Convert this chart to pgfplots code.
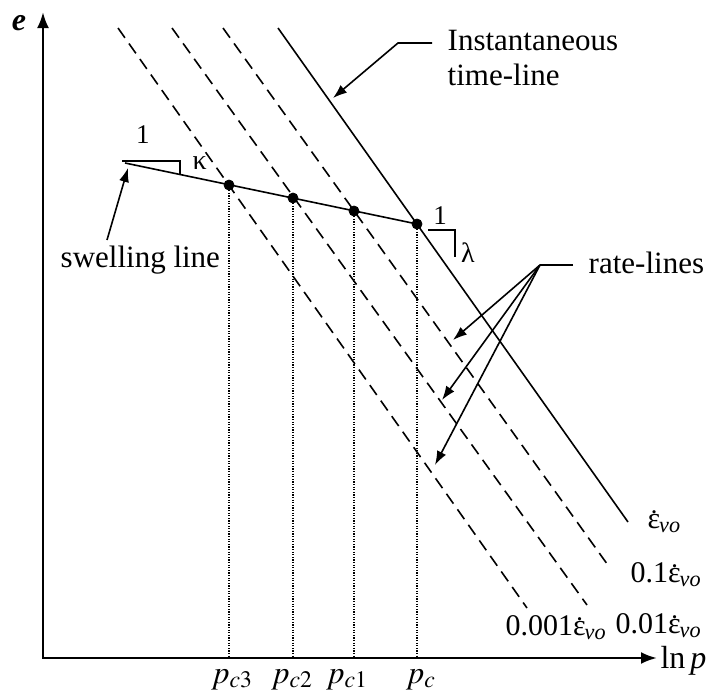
\documentclass[border=0pt]{standalone}
\usepackage{mathptmx}
\usepackage{fontspec}
\setmainfont{Liberation Serif}
\usepackage{pgfplots}
\pgfplotsset{compat=1.18}
\usetikzlibrary{arrows.meta}
\newcommand{\edot}{\ooalign{ε\cr\hidewidth\raisebox{-0.08em}{˙}\hidewidth\cr}\textsubscript{\kern-0.05em\textit{vo}}}

\begin{document}
\fontsize{15.5}{18}\selectfont
\begin{tikzpicture}[font=\fontsize{15.5}{18}\selectfont]
\begin{axis}[
  scale only axis, width=359.5pt, height=346.5pt,
  xmin=-43, xmax=676, ymin=-35, ymax=658,
  axis lines=none, clip=false,
  every node/.append style={inner sep=0pt},
]
\coordinate (bl) at (rel axis cs:0,0);
\coordinate (tr) at (rel axis cs:1,1);
% axes
\draw[line width=1.3pt, -{Latex[length=8pt,width=6pt]}] (axis cs:0,-0.5) -- (axis cs:0,646);
\draw[line width=1.3pt, -{Latex[length=8pt,width=6pt]}] (axis cs:-0.5,0) -- (axis cs:614,0);
\node[anchor=base, font=\fontsize{16}{19}\selectfont] at (axis cs:-24,627) {\textbf{\textit{e}}};
\node[anchor=base east, font=\fontsize{16}{19}\selectfont] at (axis cs:674,-10) {ln\kern0.15em\textit{p}};

% instantaneous time-line
\addplot[black, line width=0.8pt] coordinates {(235,630) (585,136)};
% rate lines
\addplot[black, line width=0.8pt, dash pattern=on 6pt off 3.5pt] coordinates {(180,630) (567,90)};
\addplot[black, line width=0.8pt, dash pattern=on 6pt off 3.5pt] coordinates {(129,630) (544,53)};
\addplot[black, line width=0.8pt, dash pattern=on 6pt off 3.5pt] coordinates {(75,630) (484,50)};
% swelling line
\addplot[black, line width=0.8pt] coordinates {(82,495) (374,434)};
% vertical dotted lines
\addplot[black, line width=0.6pt, dash pattern=on 0.6pt off 0.7pt] coordinates {(186,473) (186,0)};
\addplot[black, line width=0.6pt, dash pattern=on 0.6pt off 0.7pt] coordinates {(250,460) (250,0)};
\addplot[black, line width=0.6pt, dash pattern=on 0.6pt off 0.7pt] coordinates {(311,447) (311,0)};
\addplot[black, line width=0.6pt, dash pattern=on 0.6pt off 0.7pt] coordinates {(374,434) (374,0)};
% points
\addplot[black, only marks, mark=*, mark size=2.5pt] coordinates {(186,473) (250,460) (311,447) (374,434)};

% x labels
\node[anchor=base, font=\fontsize{16}{19}\selectfont] at (axis cs:189,-25) {$p_{c3}$};
\node[anchor=base, font=\fontsize{16}{19}\selectfont] at (axis cs:249,-25) {$p_{c2}$};
\node[anchor=base, font=\fontsize{16}{19}\selectfont] at (axis cs:304,-25) {$p_{c1}$};
\node[anchor=base, font=\fontsize{16}{19}\selectfont] at (axis cs:378,-25) {$p_{c}$};

% line labels
\node[anchor=base west, font=\fontsize{15}{18}\selectfont] at (axis cs:594,130) {\edot};
\node[anchor=base west, font=\fontsize{15}{18}\selectfont] at (axis cs:577,76) {0.1\edot};
\node[anchor=base west, font=\fontsize{15}{18}\selectfont] at (axis cs:562,25) {0.01\edot};
\node[anchor=base west, font=\fontsize{15}{18}\selectfont] at (axis cs:452,23) {0.001\edot};

% slope triangle kappa
\draw[line width=0.7pt] (axis cs:79,497) -- (axis cs:137,497) -- (axis cs:137,484);
\node[font=\fontsize{13.5}{15}\selectfont] at (axis cs:100,523) {1};
\node[anchor=west, font=\fontsize{14}{15}\selectfont] at (axis cs:139,495) {κ};
% slope triangle lambda
\draw[line width=0.7pt] (axis cs:385,428) -- (axis cs:412,428) -- (axis cs:412,401);
\node[font=\fontsize{13.5}{15}\selectfont] at (axis cs:397,442) {1};
\node[font=\fontsize{14}{15}\selectfont] at (axis cs:425,405) {λ};

% annotations
\node[anchor=base west] at (axis cs:394,608) {Instantaneous};
\node[anchor=base west] at (axis cs:394,573) {time-line};
\draw[line width=0.8pt, -{Latex[length=7pt,width=5pt]}] (axis cs:389,615) -- (axis cs:355,615) -- (axis cs:290,560);

\node[anchor=base west] at (axis cs:535,385) {rate-lines};
\draw[line width=0.8pt] (axis cs:530,393) -- (axis cs:497,393);
\draw[line width=0.8pt, -{Latex[length=7pt,width=5pt]}] (axis cs:497,393) -- (axis cs:410,318);
\draw[line width=0.8pt, -{Latex[length=7pt,width=5pt]}] (axis cs:497,393) -- (axis cs:399,258);
\draw[line width=0.8pt, -{Latex[length=7pt,width=5pt]}] (axis cs:497,393) -- (axis cs:392,193);

\node[anchor=base west] at (axis cs:7,391) {swelling line};
\draw[line width=0.8pt, -{Latex[length=7pt,width=5pt]}] (axis cs:64,418) -- (axis cs:85,490);
\end{axis}
\pgfresetboundingbox
\path (bl) rectangle (tr);
\end{tikzpicture}
\end{document}
